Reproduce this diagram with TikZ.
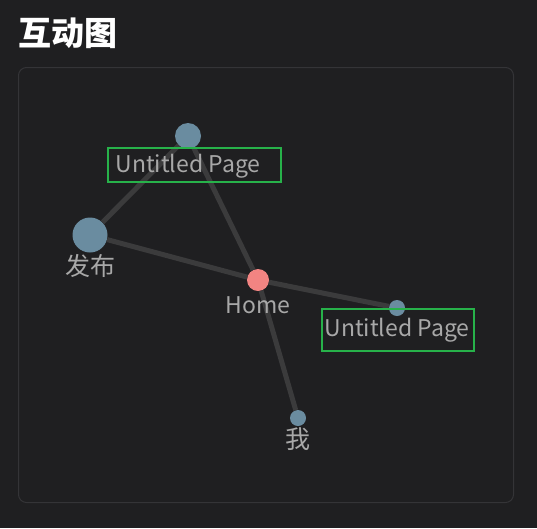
\documentclass[tikz,border=0pt]{standalone}
\usepackage{fontspec}
\newfontfamily\cjk{Noto Sans CJK SC}
\definecolor{pagebg}{HTML}{1F1F21}
\definecolor{panelline}{HTML}{343437}
\definecolor{dotblue}{HTML}{6A8CA0}
\definecolor{dothome}{HTML}{F28482}
\definecolor{linkgray}{HTML}{3B3B3C}
\definecolor{labelgray}{HTML}{A8A8A8}
\definecolor{markgreen}{HTML}{27B24A}
\tikzset{
  page/.style={x=1pt, y=-1pt},
  dot/.style={circle, fill=dotblue, inner sep=0pt, minimum size=#1},
  link/.style={draw=linkgray, line width=5pt},
  lbl/.style={text=labelgray, font=\cjk\fontsize{23}{23}\selectfont, inner sep=0pt},
  markbox/.style={draw=markgreen, line width=1.5pt, inner sep=0pt}
}
\begin{document}
\begin{tikzpicture}[page]
    % Background and panel
    \fill[pagebg] (0,0) rectangle (537,528);
    \useasboundingbox (0,0) rectangle (537,528);
    \draw[panelline, line width=1pt, rounded corners=8pt] (18.5,67.5) rectangle (513.5,502.5);
    \node[anchor=west, text=white, font=\cjk\bfseries\fontsize{33}{33}\selectfont, inner sep=0pt] (title) at (18,33) {互动图};

    % Points
    \node[dot=26pt] (top) at (188,136) {};
    \node[dot=35pt] (fabu) at (90,235) {};
    \node[dot=22pt, fill=dothome] (home) at (258,280) {};
    \node[dot=16pt] (right) at (397,308) {};
    \node[dot=16pt] (wo) at (298,418) {};

    % Links
    \draw[link] (top) -- (fabu);
    \draw[link] (top) -- (home);
    \draw[link] (fabu) -- (home);
    \draw[link] (home) -- (right);
    \draw[link] (home) -- (wo);

    % Labels
    \node[lbl] (toplbl) at (188,166) {Untitled Page};
    \node[lbl, font=\cjk\fontsize{25}{25}\selectfont] (fabulbl) at (90,266) {发布};
    \node[lbl] (homelbl) at (258,305) {Home};
    \node[lbl] (rightlbl) at (397,330) {Untitled Page};
    \node[lbl, font=\cjk\fontsize{25}{25}\selectfont] (wolbl) at (298,439) {我};

    % Highlight boxes
    \node[markbox, minimum width=173pt, minimum height=34pt] (topbox) at (194.5,165) {};
    \node[markbox, minimum width=152pt, minimum height=42pt] (rightbox) at (398,330) {};
\end{tikzpicture}
\end{document}
